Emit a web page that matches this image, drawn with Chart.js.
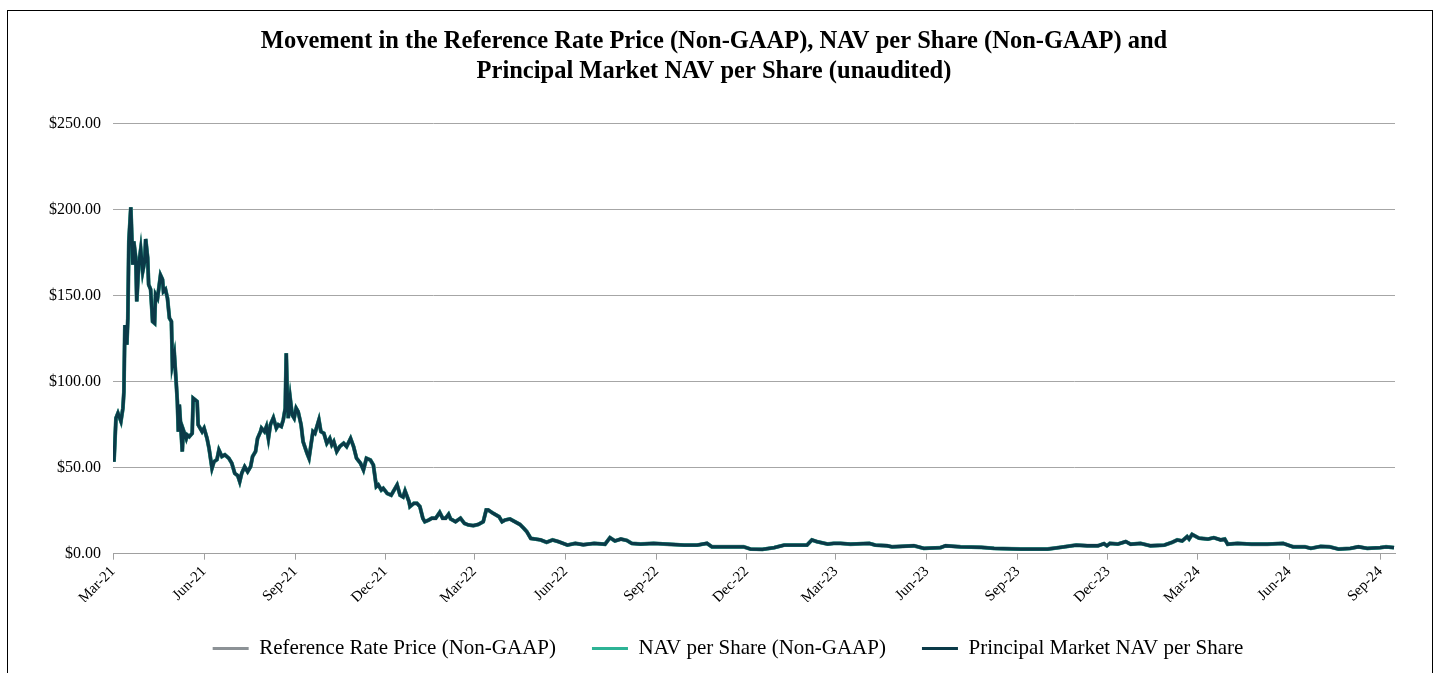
<!DOCTYPE html>
<html>
<head>
<meta charset="utf-8">
<script src="https://cdn.jsdelivr.net/npm/chart.js@4"></script>
<style>
  body { margin: 0; background: #fff; }
  #frame { position: absolute; left: 7px; top: 10px; width: 1424px; height: 700px; border: 1px solid #000; }
  #wrap { position: absolute; left: 0; top: 0; }
</style>
</head>
<body>
<div id="frame"></div>
<div id="wrap"><canvas id="navChart" width="1439" height="673"></canvas></div>
<script>
// days since 1 Mar 2021 for each reading
var days = [1,3,5,8,10,11,12,14,15,16,18,20,21,23,24,26,28,30,32,33,35,36,38,40,42,43,45,48,50,51,53,55,57,59,60,62,64,65,66,67,69,70,71,74,75,77,80,81,85,86,90,92,95,97,100,102,105,107,110,113,117,120,123,126,128,130,133,136,139,141,144,146,149,150,153,155,157,159,162,165,167,170,172,174,175,176,177,179,181,183,185,187,190,192,196,198,200,202,204,208,210,213,216,219,221,223,226,229,233,236,240,243,246,250,253,256,260,263,266,268,271,273,277,281,283,287,290,293,295,299,300,304,307,310,313,315,319,322,326,330,333,336,339,341,346,351,355,359,364,369,374,377,379,384,390,393,396,401,406,411,415,418,422,427,432,438,444,450,459,467,475,486,497,502,507,513,519,524,533,546,560,577,590,600,605,620,637,644,656,668,678,691,701,706,711,722,728,735,745,764,770,782,787,809,819,836,841,856,877,890,917,944,957,973,984,995,1001,1004,1007,1015,1023,1028,1038,1048,1062,1070,1075,1080,1085,1087,1090,1097,1106,1112,1119,1123,1126,1136,1150,1166,1182,1192,1204,1210,1220,1229,1238,1250,1258,1267,1280,1286,1294];

// principal market NAV per share ($)
var principalNav = [53.5,78.8,81.7,77,84.6,94,133,121.6,137,181.6,201.4,168,181.6,172,146.7,168,177,164,170,183,172,156.5,153.7,135,134,150.7,148.6,162,159.5,152.5,153.7,148.6,137,135,110,115.8,98,88.5,71,86.7,69,59.4,72,67,69,68,70,90.4,88.5,75,71,73,67,61.3,49.7,53.5,54.7,60.3,56.5,57.5,55.5,52.6,46.7,45.4,41.9,46.7,50.6,47.7,50.6,56.5,59.4,67,71,73,71,74,67,75,79,73,75,74,77.8,84.6,116.6,94.3,78.8,90.4,80.7,78.8,84.6,82.6,75,65.2,58.4,55.5,63.3,71,70,77.8,71,70,64.2,67,63.3,65.2,59.4,62.3,64.2,62.3,67,62.3,55.5,52.6,48.7,55.5,54.5,51.6,39,40,37,38,35,34,36,40,34,33,36.5,30.3,27.4,29.3,29.3,27.4,20.6,18.6,19.6,20.6,20.6,24,20.6,20.6,22.9,20.2,18.6,20.6,17.6,16.7,16.3,17,18.6,25.4,25.4,23.5,21.5,18.6,19.6,20.2,18.6,17,14.7,12.8,8.9,8.5,8,6.6,8,7,5,6,5.2,6,5.5,9.3,7.4,8.5,7.7,6,5.6,6,5.5,5,5,6,4,4,4,2.7,2.5,3.5,5,5,5,8,7,5.6,6,6,5.5,6,5,4.6,4,4.6,3.1,3.5,4.6,4,3.7,3.1,2.7,2.7,3.7,5,4.6,4.6,5.8,4.6,6,5.6,7,5.5,6,4.6,5,6.6,8,7.4,9.9,8.5,11.2,9,8.5,9.3,8,8.5,5.5,6,5.5,5.5,6,4,4,3.1,4.2,4,2.7,3.1,4,3.1,3.5,4,3.5];

// the other two series sit on the same line at this scale
var navPerShare = principalNav;
var refRatePrice = principalNav;

var seriesNames = ['Reference Rate Price (Non-GAAP)', 'NAV per Share (Non-GAAP)', 'Principal Market NAV per Share'];
var tickLabels = ['Mar-21','Jun-21','Sep-21','Dec-21','Mar-22','Jun-22','Sep-22','Dec-22','Mar-23','Jun-23','Sep-23','Dec-23','Mar-24','Jun-24','Sep-24'];
var titleLines = ['Movement in the Reference Rate Price (Non-GAAP), NAV per Share (Non-GAAP) and', 'Principal Market NAV per Share (unaudited)'];

var serif = "'Liberation Serif', 'Times New Roman', serif";

//day offsets of the quarter starts used as x ticks
var startUtc = Date.UTC(2021, 2, 1);
var tickDays = tickLabels.map(function(l, i){
  return Math.round((Date.UTC(2021, 2 + 3 * i, 1) - startUtc) / 864e5);
});

function toPoints(vals){
  return days.map(function(d, i){ return {x: d, y: vals[i]}; });
}

//nudge the legend a little to the right, like the original
var legendShift = {
  id: 'legendShift',
  afterLayout: function(chart){
    if (chart.legend) {
      chart.legend.left += 14;
      chart.legend.right += 14;
    }
  }
};

var ctx = document.getElementById('navChart');
var navChart = new Chart(ctx, {
  type: 'line',
  data: {
    datasets: [{
      label: seriesNames[0],
      data: toPoints(refRatePrice),
      borderColor: '#8c9296',
      backgroundColor: '#8c9296',
      borderWidth: 3.9,
      order: 3
    }, {
      label: seriesNames[1],
      data: toPoints(navPerShare),
      borderColor: '#2db395',
      backgroundColor: '#2db395',
      borderWidth: 3.7,
      order: 2
    }, {
      label: seriesNames[2],
      data: toPoints(principalNav),
      borderColor: '#0b3a48',
      backgroundColor: '#0b3a48',
      borderWidth: 3.3,
      order: 1
    }]
  },
  plugins: [legendShift],
  options: {
    responsive: false,
    animation: false,
    devicePixelRatio: 1,
    elements: { point: { radius: 0 }, line: { tension: 0 } },
    layout: { padding: { left: 33, right: 44, top: 0, bottom: 4 } },
    plugins: {
      tooltip: { enabled: false },
      title: {
        display: true,
        text: titleLines,
        color: '#000',
        font: { family: serif, size: 24.5, weight: 'bold', lineHeight: 1.22 },
        padding: { top: 27, bottom: 37 }
      },
      legend: {
        position: 'bottom',
        labels: {
          boxWidth: 36,
          boxHeight: 3,
          padding: 36,
          color: '#000',
          font: { family: serif, size: 21 },
          sort: function(a, b){ return a.datasetIndex - b.datasetIndex; },
          generateLabels: function(chart){
            var items = Chart.defaults.plugins.legend.labels.generateLabels(chart);
            items.forEach(function(it){ it.lineWidth = 0; });
            return items;
          }
        }
      }
    },
    scales: {
      x: {
        type: 'linear',
        min: 0,
        max: 1295,
        afterBuildTicks: function(scale){
          scale.ticks = tickDays.map(function(v){ return {value: v}; });
        },
        afterFit: function(scale){ scale.height = scale.height - 8; },
        ticks: {
          autoSkip: false,
          minRotation: 45,
          maxRotation: 45,
          color: '#000',
          font: { family: serif, size: 15 },
          callback: function(v, i){ return tickLabels[i]; }
        },
        grid: { drawOnChartArea: false, color: '#a0a0a0', tickLength: 6 },
        border: { color: '#a0a0a0' }
      },
      y: {
        min: 0,
        max: 250,
        afterFit: function(scale){ scale.width = 80; },
        ticks: {
          stepSize: 50,
          padding: 12,
          color: '#000',
          font: { family: serif, size: 16 },
          callback: function(v){ return '$' + v.toFixed(2); }
        },
        grid: { color: '#a6a6a6', drawTicks: false },
        border: { display: false }
      }
    }
  }
});
</script>
</body>
</html>
